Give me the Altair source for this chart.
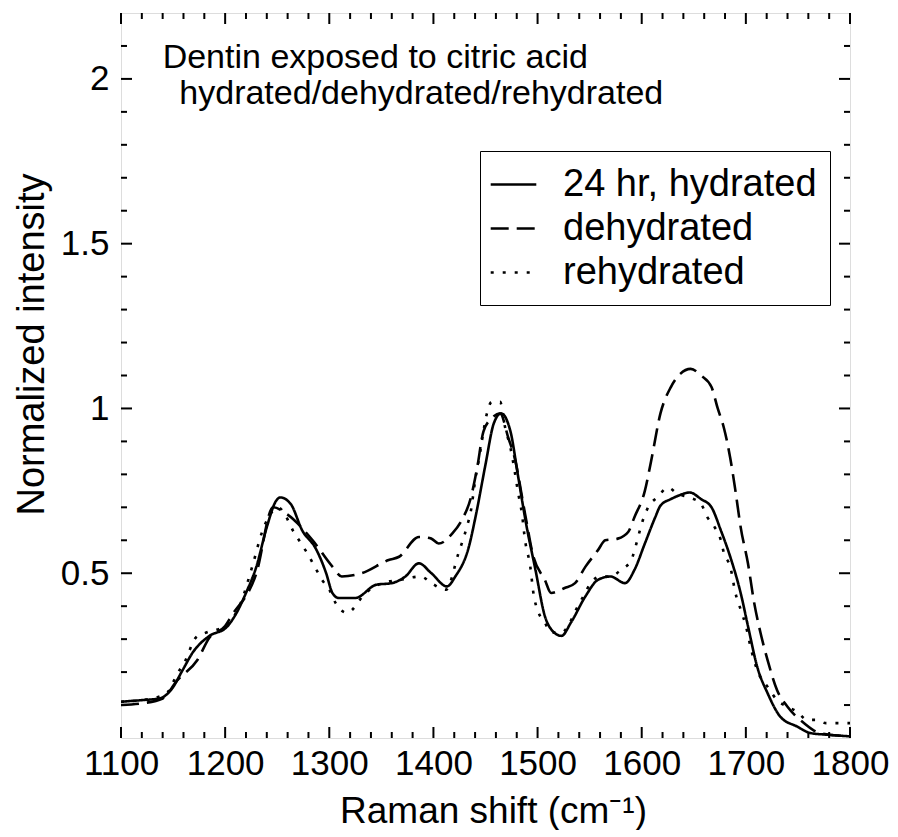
import altair as alt
import pandas as pd

# ---- data ----
hyd_x = [1100, 1120, 1137, 1149, 1159, 1169, 1185, 1201, 1211, 1220, 1230, 1240, 1249, 1253, 1263, 1274, 1287, 1297, 1303, 1309, 1325, 1345, 1360, 1373, 1386, 1398, 1413, 1421, 1434, 1441, 1450, 1458, 1465, 1474, 1481, 1489, 1498, 1507, 1513, 1523, 1532, 1546, 1558, 1570, 1584, 1593, 1603, 1613, 1618, 1628, 1635, 1646, 1657, 1667, 1676, 1685, 1695, 1702, 1711, 1721, 1733, 1749, 1762, 1778, 1800]
hyd_y = [0.11, 0.115, 0.12, 0.15, 0.205, 0.26, 0.31, 0.335, 0.38, 0.44, 0.52, 0.64, 0.72, 0.73, 0.71, 0.63, 0.575, 0.50, 0.44, 0.425, 0.425, 0.465, 0.47, 0.49, 0.53, 0.50, 0.46, 0.49, 0.58, 0.68, 0.83, 0.955, 0.985, 0.93, 0.80, 0.65, 0.51, 0.37, 0.33, 0.31, 0.35, 0.43, 0.48, 0.49, 0.47, 0.51, 0.59, 0.67, 0.705, 0.725, 0.735, 0.745, 0.725, 0.70, 0.63, 0.55, 0.44, 0.34, 0.215, 0.135, 0.065, 0.035, 0.015, 0.01, 0.005]

deh_x = [1100, 1120, 1140, 1154, 1173, 1185, 1200, 1206, 1230, 1246, 1259, 1284, 1303, 1312, 1331, 1357, 1367, 1386, 1398, 1405, 1418, 1427, 1436, 1442, 1448, 1456, 1464, 1472, 1478, 1488, 1496, 1507, 1513, 1526, 1536, 1546, 1558, 1565, 1577, 1587, 1593, 1603, 1609, 1618, 1628, 1637, 1647, 1657, 1667, 1673, 1679, 1685, 1690, 1695, 1702, 1708, 1714, 1721, 1730, 1740, 1756, 1771, 1800]
deh_y = [0.10, 0.105, 0.12, 0.175, 0.235, 0.305, 0.34, 0.37, 0.50, 0.70, 0.68, 0.60, 0.52, 0.49, 0.50, 0.54, 0.55, 0.61, 0.605, 0.59, 0.62, 0.66, 0.73, 0.82, 0.93, 0.97, 0.985, 0.91, 0.85, 0.68, 0.55, 0.48, 0.44, 0.455, 0.47, 0.52, 0.57, 0.60, 0.605, 0.625, 0.67, 0.75, 0.84, 0.985, 1.065, 1.105, 1.12, 1.10, 1.065, 1.00, 0.94, 0.85, 0.75, 0.64, 0.53, 0.41, 0.32, 0.235, 0.145, 0.095, 0.045, 0.015, 0.005]

reh_x = [1100, 1130, 1145, 1154, 1161, 1172, 1182, 1200, 1215, 1226, 1236, 1246, 1251, 1257, 1265, 1273, 1279, 1286, 1293, 1300, 1306, 1317, 1335, 1351, 1368, 1388, 1398, 1412, 1424, 1432, 1436, 1440, 1445, 1448, 1451, 1456, 1464, 1469, 1474, 1478, 1481, 1485, 1488, 1493, 1496, 1501, 1507, 1513, 1523, 1531, 1537, 1544, 1551, 1560, 1570, 1580, 1590, 1594, 1601, 1607, 1615, 1625, 1635, 1646, 1657, 1663, 1670, 1676, 1679, 1685, 1690, 1695, 1700, 1705, 1711, 1721, 1730, 1740, 1749, 1759, 1768, 1777, 1800]
reh_y = [0.11, 0.12, 0.14, 0.195, 0.23, 0.305, 0.32, 0.34, 0.41, 0.52, 0.63, 0.69, 0.70, 0.68, 0.63, 0.59, 0.56, 0.52, 0.48, 0.45, 0.41, 0.38, 0.44, 0.47, 0.48, 0.49, 0.47, 0.45, 0.56, 0.64, 0.69, 0.78, 0.87, 0.93, 0.98, 1.02, 1.02, 0.94, 0.88, 0.81, 0.75, 0.68, 0.60, 0.52, 0.44, 0.38, 0.35, 0.32, 0.32, 0.35, 0.39, 0.43, 0.47, 0.49, 0.49, 0.51, 0.54, 0.58, 0.66, 0.705, 0.73, 0.76, 0.74, 0.73, 0.71, 0.67, 0.64, 0.60, 0.56, 0.52, 0.44, 0.39, 0.34, 0.27, 0.205, 0.155, 0.115, 0.095, 0.08, 0.055, 0.055, 0.045, 0.045]

series_names = ["24 hr, hydrated", "dehydrated", "rehydrated"]
dash_styles = [[1, 0], [18, 8], [3, 9]]

x_major = [1100, 1200, 1300, 1400, 1500, 1600, 1700, 1800]
x_minor = [v for v in range(1120, 1800, 20) if v % 100 != 0]
y_major = [0.5, 1.0, 1.5, 2.0]
y_minor = [0.1, 0.2, 0.3, 0.4, 0.6, 0.7, 0.8, 0.9, 1.1, 1.2, 1.3, 1.4, 1.6, 1.7, 1.8, 1.9, 2.1]

note_x = [1140, 1156]
note_y = [2.033, 1.925]
note_text = ["Dentin exposed to citric acid", "hydrated/dehydrated/rehydrated"]

# ---- build tables ----
rows = []
for name, xs, ys in zip(series_names, [hyd_x, deh_x, reh_x], [hyd_y, deh_y, reh_y]):
    for i, (a, b) in enumerate(zip(xs, ys)):
        rows.append({"shift": a, "intensity": b, "series": name, "order": i})
df = pd.DataFrame(rows)

W, H = 729, 725
FONT = "Liberation Sans"
xscale = alt.Scale(domain=[1100, 1800], nice=False, zero=False)
yscale = alt.Scale(domain=[0, 2.2], nice=False, zero=False)

lines = alt.Chart(df).mark_line(interpolate="monotone", color="black", strokeWidth=2.6, clip=True).encode(
    x=alt.X("shift:Q", scale=xscale,
            axis=alt.Axis(values=x_major, format="d", ticks=False, tickSize=0, domain=False, grid=False,
                          labelOverlap=False, labelFlush=False,
                          labelFont=FONT, labelFontSize=35, labelColor="black", labelPadding=8,
                          title="Raman shift (cm⁻¹)", titleFont=FONT, titleFontSize=37,
                          titleFontWeight="normal", titleColor="black",
                          titleX=372, titleY=55, titleAlign="center", titleBaseline="top")),
    y=alt.Y("intensity:Q", scale=yscale,
            axis=alt.Axis(values=y_major, format="~g", ticks=False, tickSize=0, domain=False, grid=False,
                          labelOverlap=False, labelFlush=False,
                          labelFont=FONT, labelFontSize=35, labelColor="black", labelPadding=12,
                          title="Normalized intensity", titleFont=FONT, titleFontSize=38,
                          titleFontWeight="normal", titleColor="black", titleAngle=270,
                          titleX=-89, titleY=331, titleAlign="center", titleBaseline="middle")),
    strokeDash=alt.StrokeDash("series:N",
                              scale=alt.Scale(domain=series_names, range=dash_styles),
                              legend=alt.Legend(title=None, orient="none", legendX=359, legendY=138,
                                                symbolType="M-1.2,0H1.2", symbolSize=1444,
                                                symbolStrokeWidth=2.6, symbolStrokeColor="black",
                                                labelFont=FONT, labelFontSize=38, labelColor="black",
                                                labelLimit=500, labelOffset=29, rowPadding=4, padding=13,
                                                strokeColor="black")),
    order="order:Q",
)

xt_major = pd.DataFrame({"v": x_major})
xt_minor = pd.DataFrame({"v": x_minor})
yt_major = pd.DataFrame({"v": y_major})
yt_minor = pd.DataFrame({"v": y_minor})

def xticks(d, length):
    b = alt.Chart(d).mark_rule(color="black", strokeWidth=2).encode(
        x=alt.X("v:Q", scale=xscale), y=alt.value(H), y2=alt.value(H - length))
    t = alt.Chart(d).mark_rule(color="black", strokeWidth=2).encode(
        x=alt.X("v:Q", scale=xscale), y=alt.value(0), y2=alt.value(length))
    return b + t

def yticks(d, length):
    l = alt.Chart(d).mark_rule(color="black", strokeWidth=2).encode(
        y=alt.Y("v:Q", scale=yscale), x=alt.value(0), x2=alt.value(length))
    r = alt.Chart(d).mark_rule(color="black", strokeWidth=2).encode(
        y=alt.Y("v:Q", scale=yscale), x=alt.value(W), x2=alt.value(W - length))
    return l + r

notes = alt.Chart(pd.DataFrame({"x": note_x, "y": note_y, "t": note_text})).mark_text(
    align="left", baseline="alphabetic", font=FONT, fontSize=34, color="black").encode(
    x=alt.X("x:Q", scale=xscale), y=alt.Y("y:Q", scale=yscale), text="t:N")

chart = alt.layer(
    lines,
    xticks(xt_major, 11), xticks(xt_minor, 6),
    yticks(yt_major, 11), yticks(yt_minor, 6),
    notes,
).properties(
    width=W, height=H,
    autosize=alt.AutoSizeParams(type="none"),
    padding={"left": 113, "top": 5, "right": 40, "bottom": 92},
).configure_view(
    stroke="black", strokeWidth=2.6
).configure_legend(
    strokeWidth=2.4
).configure(background="white")

chart.save("out.html", embed_options={"renderer": "svg", "actions": False})
